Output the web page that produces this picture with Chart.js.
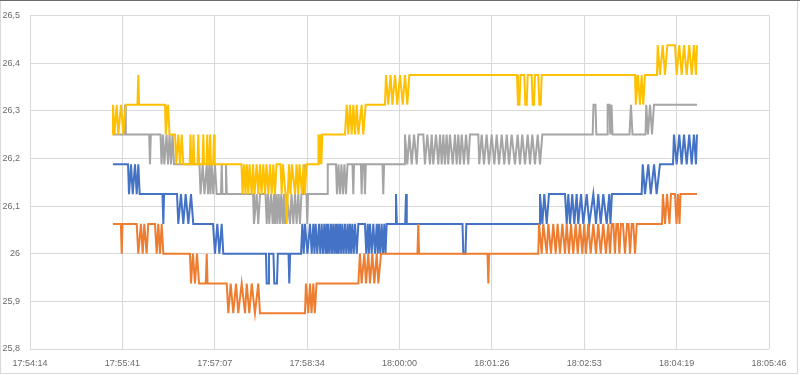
<!DOCTYPE html>
<html>
<head>
<meta charset="utf-8">
<script src="https://cdn.jsdelivr.net/npm/chart.js@4.4.1/dist/chart.umd.min.js"></script>
<style>
  html, body { margin: 0; padding: 0; background: #fff; }
  #wrap { width: 800px; height: 375px; }
</style>
</head>
<body>
<div id="wrap"><canvas id="c" width="800" height="375"></canvas></div>
<script>
// --- axis labels --------------------------------------------------
// one label every 86,4 s (0,001 day), first one at 17:54:14
const xTickLabels = ['17:54:14', '17:55:41', '17:57:07', '17:58:34', '18:00:00',
                     '18:01:26', '18:02:53', '18:04:19', '18:05:46'];
const X_STEP = 86.4;
const yTicks = [25.8, 25.9, 26, 26.1, 26.2, 26.3, 26.4, 26.5];

// --- readings: [seconds after 17:54:14, temperature] ----------------
const blue = [
  [77.6,26.1875],[91.7,26.1875],[92.6,26.125],[94.5,26.1875],[96.1,26.125],[98.2,26.1875],[99.8,26.125],[101.3,26.1875],[102.6,26.125],
  [123.9,26.125],[124.7,26.0625],[125.4,26.125],[137.5,26.125],[138.7,26.0625],[141.2,26.125],[143.4,26.0625],[145.6,26.125],[148.1,26.0625],[150.6,26.125],[152.7,26.0625],
  [171.2,26.0625],[173.0,26],[175.2,26.0625],[177.1,26],[179.3,26.0625],[180.8,26],
  [220.7,26],[221.4,25.9375],[222.9,25.9375],[223.5,26],[227.7,26],[228.5,25.9375],[231.0,25.9375],[231.8,26],[241.8,26],[242.5,25.9375],[243.3,26],
  [253.5,26],[254.7,26.0625],[256.0,26],[257.2,26.0625],[259.5,26],[261.9,26.0625],[263.5,26],[265.0,26.0625],[266.1,26],[267.2,26.0625],[268.7,26],[270.3,26.0625],
  [271.5,26],[272.8,26.0625],[274.0,26],[275.3,26.0625],[276.4,26],[277.5,26.0625],[278.2,26],[279.0,26.0625],[280.3,26],[281.5,26.0625],[282.6,26],[283.7,26.0625],
  [284.8,26],[285.9,26.0625],[286.9,26],[287.8,26.0625],[288.8,26],[289.9,26.0625],[291.1,26],[292.1,26.0625],[293.4,26],[294.6,26.0625],[295.8,26],[297.1,26.0625],
  [298.2,26],[299.3,26.0625],[300.4,26],[301.5,26.0625],[302.8,26],[304.0,26.0625],[305.6,26],[307.1,26.0625],[313.3,26.0625],[314.5,26],[315.9,26.0625],[316.9,26],
  [318.0,26.0625],[319.6,26],[321.1,26.0625],[322.7,26],[324.3,26.0625],[325.3,26],[326.4,26.0625],[327.6,26],[328.9,26.0625],[330.2,26],[331.4,26.0625],[332.5,26],[333.6,26.0625],
  [341.6,26.0625],[342.3,26.125],[343.1,26.0625],[350.9,26.0625],[351.7,26.125],[352.4,26.0625],[404.5,26.0625],[405.3,26],[407.3,26],[408.1,26.0625],
  [476.1,26.0625],[477.0,26.125],[479.2,26.0625],[481.0,26.125],[483.3,26.0625],[485.4,26.125],[500.4,26.125],[502.0,26.0625],[503.5,26.125],[505.1,26.0625],
  [507.2,26.125],[509.1,26.0625],[511.3,26.125],[512.8,26.0625],[515.4,26.125],[517.5,26.0625],[520.7,26.125],[523.1,26.0625],[526.9,26.125],[529.4,26.0625],
  [531.5,26.125],[533.8,26.0625],[536.2,26.125],[539.4,26.0625],[541.8,26.125],[542.9,26.0625],[544.3,26.125],
  [572.1,26.125],[573.1,26.1875],[575.2,26.125],[578.3,26.1875],[580.6,26.125],[583.7,26.1875],[586.1,26.125],[589.2,26.1875],[601.4,26.1875],
  [602.3,26.25],[604.8,26.1875],[607.3,26.25],[609.5,26.1875],[611.7,26.25],[614.2,26.1875],[616.6,26.25],[618.9,26.1875],[621.0,26.25],[622.9,26.1875],[623.8,26.25]
];

const orange = [
  [77.6,26.0625],[85.0,26.0625],[85.8,26],[86.5,26.0625],[99.8,26.0625],[101.3,26],[103.8,26.0625],[105.4,26],[106.9,26.0625],[109.1,26],[110.6,26.0625],
  [116.9,26.0625],[118.5,26],[120.0,26.0625],[121.6,26],[123.2,26.0625],[124.7,26],
  [149.6,26],[150.6,25.9375],[152.4,26],[154.3,25.9375],[156.2,26],[158.1,25.9375],[164.4,25.9375],[165.3,26],[166.1,25.9375],
  [184.0,25.9375],[185.5,25.875],[187.7,25.9375],[190.1,25.875],[192.7,25.9375],[194.8,25.875],[198.0,25.9375],[201.1,25.875],[202.7,25.9375],[205.1,25.875],
  [207.4,25.9375],[210.4,25.875],[213.5,25.9375],[215.1,25.875],
  [257.2,25.875],[258.1,25.9375],[260.3,25.875],[261.9,25.9375],[263.3,25.875],[265.0,25.9375],[266.4,25.875],[268.0,25.9375],
  [307.1,25.9375],[308.6,26],[310.2,25.9375],[312.7,26],[314.3,25.9375],[316.4,26],[318.0,25.9375],[320.2,26],[322.0,25.9375],[324.3,26],[325.8,25.9375],[328.3,26],
  [362.4,26],[363.2,26.0625],[363.9,26],[427.9,26],[428.7,25.9375],[429.4,26],
  [475.4,26],[476.1,26.0625],[478.6,26],[480.1,26.0625],[483.3,26],[484.8,26.0625],[487.3,26],[489.4,26.0625],[491.7,26],[493.5,26.0625],[495.7,26],[497.9,26.0625],
  [500.4,26],[502.0,26.0625],[504.1,26],[506.0,26.0625],[508.1,26],[510.4,26.0625],[512.3,26],[514.4,26.0625],[516.6,26],[518.4,26.0625],[520.0,26],[522.2,26.0625],
  [524.4,26],[526.9,26.0625],[529.4,26],[531.5,26.0625],[533.8,26],[536.2,26.0625],[538.7,26],[540.9,26.0625],[542.5,26],[544.1,26.0625],[545.7,26.0625],[547.1,26],
  [548.5,26.0625],[549.9,26.0625],[551.3,26],[552.7,26.0625],[554.6,26.0625],[556.5,26],[558.4,26.0625],[559.8,26.0625],[561.2,26],[562.8,26.0625],[564.3,26.0625],
  [565.9,26],[567.5,26.0625],
  [591.1,26.0625],[592.0,26.125],[593.9,26.0625],[595.8,26.125],[598.1,26.0625],[599.5,26.125],[603.3,26.125],[604.7,26.0625],[606.1,26.125],[607.5,26.0625],
  [608.4,26.125],[623.8,26.125]
];

const grey = [
  [77.6,26.25],[88.1,26.25],[88.9,26.3125],[89.6,26.25],[111.5,26.25],[112.2,26.1875],[113.0,26.25],
  [122.1,26.25],[123.0,26.1875],[124.4,26.25],[125.6,26.1875],[127.7,26.25],[129.1,26.1875],[130.5,26.25],[131.9,26.1875],[133.3,26.25],[134.7,26.1875],
  [158.5,26.1875],[159.5,26.125],[161.5,26.1875],[163.2,26.125],[165.3,26.1875],[166.5,26.125],[167.7,26.1875],[168.8,26.125],[169.9,26.1875],[171.4,26.125],
  [173.0,26.1875],[174.6,26.125],[178.6,26.125],[179.3,26.1875],[180.0,26.125],[182.6,26.125],[183.3,26.1875],[184.1,26.125],
  [208.6,26.125],[209.5,26.0625],[212.0,26.125],[213.5,26.0625],[215.1,26.125],[220.3,26.125],[221.4,26.0625],[222.6,26.125],[223.8,26.0625],[225.4,26.125],
  [227.0,26.0625],[228.2,26.125],[229.1,26.0625],[230.3,26.125],[231.3,26.0625],[232.6,26.125],[233.8,26.0625],[235.0,26.125],[236.4,26.0625],[237.6,26.125],
  [238.5,26.0625],[239.9,26.125],[243.2,26.0625],[244.6,26.125],[246.3,26.0625],[247.9,26.125],[249.4,26.0625],[250.9,26.125],[252.5,26.0625],[253.9,26.125],
  [255.5,26.125],[256.3,26.1875],[257.0,26.125],[258.6,26.125],[259.3,26.0625],[260.1,26.125],[277.8,26.125],[278.5,26.1875],
  [286.2,26.1875],[287.1,26.125],[288.5,26.1875],[289.9,26.125],[291.3,26.1875],[292.7,26.125],[294.1,26.1875],[295.5,26.125],[297.0,26.1875],
  [301.6,26.1875],[302.4,26.125],[303.1,26.1875],[309.5,26.1875],[310.2,26.125],[311.0,26.1875],[312.6,26.1875],[313.3,26.125],[314.1,26.1875],
  [329.7,26.1875],[330.4,26.125],[331.2,26.1875],[350.0,26.1875],
  [350.7,26.25],[352.9,26.1875],[354.8,26.25],[357.0,26.1875],[359.2,26.25],[361.7,26.1875],[363.2,26.25],[367.9,26.25],[369.4,26.1875],[371.6,26.25],
  [374.1,26.1875],[375.7,26.25],[377.2,26.1875],[379.7,26.25],[381.9,26.1875],[383.5,26.25],[385.1,26.1875],[386.6,26.25],[388.1,26.1875],[389.7,26.25],
  [391.2,26.1875],[392.8,26.25],[395.4,26.1875],[397.5,26.25],[399.1,26.1875],[400.6,26.25],[402.2,26.1875],[403.8,26.25],[405.9,26.1875],[407.8,26.25],
  [409.9,26.1875],[411.5,26.25],[419.3,26.25],[420.2,26.1875],[422.5,26.25],[424.6,26.1875],[427.1,26.25],[429.3,26.1875],[431.8,26.25],[434.3,26.1875],
  [436.5,26.25],[438.7,26.1875],[441.2,26.25],[443.6,26.1875],[445.9,26.25],[448.0,26.1875],[450.5,26.25],[453.6,26.1875],[456.1,26.25],[458.3,26.1875],
  [460.4,26.25],[463.0,26.1875],[465.5,26.25],[467.7,26.1875],[469.8,26.25],[472.3,26.1875],[474.9,26.25],[477.0,26.1875],[479.2,26.25],
  [526.3,26.25],[527.0,26.3125],[528.9,26.3125],[529.7,26.25],[539.7,26.25],[540.3,26.3125],[542.0,26.3125],[542.7,26.25],[543.9,26.3125],[544.8,26.25],
  [560.7,26.25],[562.1,26.3125],[563.5,26.25],[575.7,26.25],[576.4,26.3125],[578.0,26.25],[579.9,26.3125],[581.8,26.25],[583.6,26.3125],[623.8,26.3125]
];

const yellow = [
  [77.0,26.25],[77.6,26.3125],[79.0,26.25],[81.1,26.3125],[82.6,26.25],[85.1,26.3125],[87.3,26.25],[89.5,26.3125],[100.5,26.3125],[101.3,26.375],[102.0,26.3125],
  [126.3,26.3125],[127.0,26.25],[129.1,26.3125],[130.5,26.25],[135.6,26.25],[136.8,26.1875],[138.7,26.25],[140.3,26.1875],[141.9,26.25],[143.4,26.1875],
  [149.4,26.1875],[150.1,26.25],[150.9,26.1875],[152.2,26.1875],[152.9,26.25],[153.7,26.1875],[156.7,26.1875],[157.4,26.25],[158.2,26.1875],
  [161.3,26.1875],[162.1,26.25],[162.8,26.1875],[165.1,26.1875],[165.8,26.25],[166.6,26.1875],[167.8,26.1875],[168.5,26.25],[169.3,26.1875],
  [171.3,26.1875],[172.1,26.25],[172.8,26.1875],
  [197.8,26.1875],[198.8,26.125],[200.2,26.1875],[201.6,26.125],[202.7,26.1875],[204.2,26.125],[205.3,26.1875],[207.4,26.125],[208.6,26.1875],[210.0,26.125],
  [212.0,26.1875],[213.5,26.125],[215.1,26.1875],[216.5,26.125],[218.2,26.1875],[219.8,26.125],[221.2,26.1875],[222.9,26.125],[224.5,26.1875],[226.1,26.125],
  [227.6,26.1875],[229.1,26.125],[230.6,26.1875],[234.3,26.1875],[235.4,26.125],[236.6,26.1875],[239.0,26.125],[240.1,26.0625],[241.1,26.125],[242.2,26.1875],
  [243.6,26.125],[245.0,26.1875],[247.9,26.125],[249.3,26.1875],[250.9,26.125],[252.1,26.1875],[254.4,26.125],[255.8,26.1875],[257.2,26.125],[258.6,26.1875],
  [269.4,26.1875],[269.8,26.25],[270.8,26.1875],[271.7,26.25],[272.5,26.1875],[273.4,26.25],
  [294.6,26.25],[296.2,26.3125],[297.7,26.25],[299.3,26.3125],[300.9,26.25],[302.4,26.3125],[304.0,26.25],[305.6,26.3125],[307.1,26.25],[310.2,26.3125],
  [311.7,26.25],[314.0,26.3125],
  [332.0,26.3125],[333.0,26.375],[335.1,26.3125],[337.2,26.375],[339.0,26.3125],[341.4,26.375],[343.5,26.3125],[346.1,26.375],[348.6,26.3125],[350.7,26.375],
  [352.9,26.3125],[354.8,26.375],
  [455.5,26.375],[456.4,26.3125],[457.8,26.3125],[458.8,26.375],[462.3,26.375],[463.3,26.3125],[464.6,26.3125],[465.5,26.375],
  [469.2,26.375],[470.2,26.3125],[471.4,26.3125],[472.3,26.375],[475.4,26.375],[476.4,26.3125],[477.7,26.3125],[478.6,26.375],
  [565.9,26.375],[566.6,26.3125],[568.7,26.375],[570.5,26.3125],[572.1,26.375],[573.6,26.3125],[575.2,26.375],
  [586.4,26.375],[587.1,26.4375],[589.2,26.375],[591.8,26.4375],[593.9,26.375],[596.1,26.4375],[603.3,26.4375],[604.8,26.375],[607.3,26.4375],[609.5,26.375],
  [611.7,26.4375],[614.2,26.375],[616.6,26.4375],[618.9,26.375],[621.0,26.4375],[622.9,26.375],[623.8,26.4375]
];

// --- chart --------------------------------------------------------
const FONT = "'Liberation Sans', Arial, sans-serif";
const toXY = arr => arr.map(([x, y]) => ({ x, y }));
const serie = (label, arr, color, order) => ({
  label, data: toXY(arr), order,
  borderColor: color, backgroundColor: color,
  borderWidth: 2, pointRadius: 0, tension: 0, fill: false
});

// white background + thin frame round the whole picture
const frame = {
  id: 'frame',
  beforeDraw(chart) {
    const c = chart.ctx;
    c.save();
    c.fillStyle = '#fff';
    c.fillRect(0, 0, chart.width, chart.height);
    c.restore();
  },
  afterDraw(chart) {
    const c = chart.ctx;
    c.save();
    c.strokeStyle = '#d9d9d9';
    c.lineWidth = 1;
    c.strokeRect(0.5, 0.5, chart.width - 3, chart.height - 2);
    c.strokeStyle = '#6b6b6b';
    c.beginPath(); c.moveTo(0, 0.5); c.lineTo(chart.width, 0.5); c.stroke();
    c.restore();
  }
};

new Chart(document.getElementById('c'), {
  type: 'line',
  data: {
    datasets: [
      serie('Serie 1', blue, '#4472C4', 4),
      serie('Serie 2', orange, '#ED7D31', 3),
      serie('Serie 3', grey, '#A5A5A5', 2),
      serie('Serie 4', yellow, '#FFC000', 1)
    ]
  },
  options: {
    responsive: false,
    animation: false,
    layout: { padding: { top: 13, right: 31, bottom: 0, left: 0 } },
    plugins: { legend: { display: false }, tooltip: { enabled: false } },
    scales: {
      x: {
        type: 'linear',
        min: 0,
        max: X_STEP * (xTickLabels.length - 1),
        afterBuildTicks: s => { s.ticks = xTickLabels.map((_, i) => ({ value: i * X_STEP })); },
        afterFit: s => { s.height = 26; },
        grid: { color: '#d9d9d9', lineWidth: 1, drawTicks: false },
        border: { display: false },
        ticks: {
          padding: 9, color: '#6a6a6a', maxRotation: 0, autoSkip: false,
          font: { family: FONT, size: 9 },
          callback: (v, i) => xTickLabels[i]
        }
      },
      y: {
        min: yTicks[0],
        max: yTicks[yTicks.length - 1],
        afterBuildTicks: s => { s.ticks = yTicks.map(v => ({ value: v })); },
        afterFit: s => { s.width = 30; },
        grid: { color: '#d9d9d9', lineWidth: 1, drawTicks: false },
        border: { display: false },
        ticks: {
          padding: 10, color: '#6a6a6a',
          font: { family: FONT, size: 9 },
          callback: v => String(v).replace('.', ',')
        }
      }
    }
  },
  plugins: [frame]
});
</script>
</body>
</html>
